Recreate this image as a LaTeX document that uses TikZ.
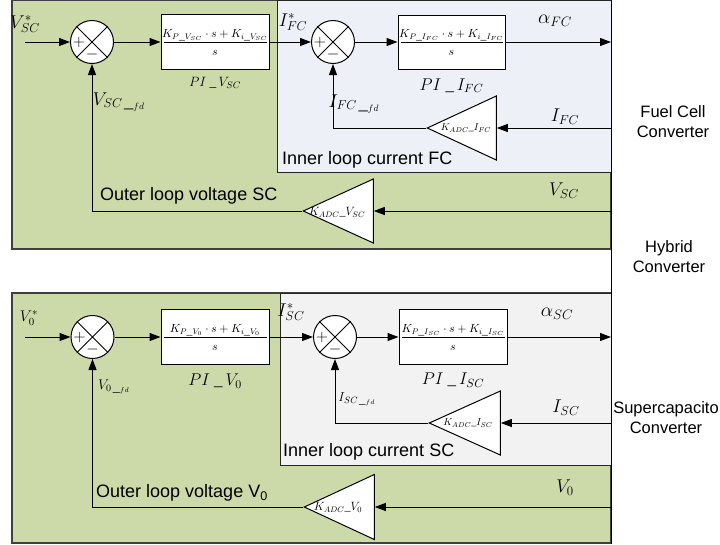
\documentclass[tikz,border=0pt]{standalone}
\usepackage{fix-cm}
\usepackage{fontspec}
\setmainfont{Liberation Serif}
\setsansfont{Liberation Sans}
\usetikzlibrary{arrows.meta,positioning,shapes.geometric}

\definecolor{loopgreen}{RGB}{204,218,170}
\definecolor{fcblue}{RGB}{237,240,247}
\definecolor{scgray}{RGB}{242,242,242}

\begin{document}
\begin{tikzpicture}[
  x=1pt, y=-1pt,
  panel/.style={draw=black!75, line width=1.2pt, fill=loopgreen},
  innerbox/.style={draw=black!85, line width=1pt},
  sum/.style={draw, circle, fill=white, minimum size=43pt, inner sep=0pt, line width=1pt},
  piblock/.style={draw, fill=white, minimum width=108pt, minimum height=55pt, line width=1pt},
  gain/.style={draw, fill=white, isosceles triangle, isosceles triangle stretches,
    shape border rotate=180, inner sep=0pt, line width=1pt, anchor=apex},
  sig/.style={font=\fontsize{18.5}{20}\selectfont, inner sep=0pt},
  num/.style={font=\fontsize{11.8}{14}\selectfont, inner sep=1pt},
  pm/.style={font=\fontsize{16}{18}\selectfont, inner sep=0pt},
  caption/.style={font=\sffamily\fontsize{18}{20}\selectfont, anchor=west, inner sep=0pt},
  side/.style={font=\sffamily\fontsize{16.5}{20}\selectfont, align=center},
  arrow/.style={-{Triangle[length=11pt,width=8pt]}, line width=1pt},
  wire/.style={line width=1pt}
]
\useasboundingbox (0,0) rectangle (720,544);

% panels
\draw[panel] (12,0.6) rectangle (611,249);
\draw[innerbox, fill=fcblue] (277,0.6) rectangle (611,172);
\draw[panel] (12,293) rectangle (611,543);
\draw[innerbox, fill=scgray] (280,293) rectangle (611,465);
\draw[wire] (611,0) -- (611,544);

\node[caption] (capFC) at (282,160) {Inner loop current FC};
\node[caption] (capVSC) at (100,196) {Outer loop voltage SC};
\node[caption] (capSC) at (283,452) {Inner loop current SC};
\node[caption] (capVo) at (96,493) {Outer loop voltage V\textsubscript{0}};

% fuel cell / SC voltage loop
\node[sum] (sV1) at (92,42) {};
\node[piblock] (piV1) at (215,42) {};
\node[sum] (sI1) at (333,42) {};
\node[piblock, minimum width=107pt, minimum height=54pt] (piI1) at (451.5,42) {};
\node[gain, minimum width=64pt, minimum height=69pt] (gI1) at (426,128) {};
\node[gain, minimum width=64pt, minimum height=70pt] (gV1) at (302,211) {};

% supercapacitor / V0 loop
\node[sum] (sV2) at (92.5,337) {};
\node[piblock] (piV2) at (215,337) {};
\node[sum] (sI2) at (335,337) {};
\node[piblock] (piI2) at (453,337) {};
\node[gain, minimum width=64pt, minimum height=71pt] (gI2) at (428,423) {};
\node[gain, minimum width=65pt, minimum height=70pt] (gV2) at (303,507) {};

\foreach \s in {sV1,sI1,sV2,sI2} {
  \draw[wire] (\s.north west) -- (\s.south east) (\s.north east) -- (\s.south west);
  \node[pm] (\s-p) at ([xshift=-13pt]\s.center) {$+$};
  \node[pm] (\s-m) at ([yshift=-12pt]\s.center) {$-$};
}
\foreach \b in {piV1,piI1,piV2,piI2}
  \draw[wire] ([xshift=3pt]\b.west) -- ([xshift=-3pt]\b.east);

% transfer functions
\node[num, above=0pt of piV1.center] (piV1n) {$K_{P\_V_{SC}}\cdot s+K_{i\_V_{SC}}$};
\node[num, below=7pt of piV1.center] (piV1d) {$s$};
\node[num, above=0pt of piI1.center] (piI1n) {$K_{P\_I_{FC}}\cdot s+K_{i\_I_{FC}}$};
\node[num, below=7pt of piI1.center] (piI1d) {$s$};
\node[num, above=0pt of piV2.center] (piV2n) {$K_{P\_V_{0}}\cdot s+K_{i\_V_{0}}$};
\node[num, below=7pt of piV2.center] (piV2d) {$s$};
\node[num, above=0pt of piI2.center] (piI2n) {$K_{P\_I_{SC}}\cdot s+K_{i\_I_{SC}}$};
\node[num, below=7pt of piI2.center] (piI2d) {$s$};

\node[sig, font=\fontsize{13.5}{15}\selectfont, below=7pt of piV1] (piV1l) {$PI\ \_\,V_{SC}$};
\node[sig, font=\fontsize{17}{19}\selectfont, below=9pt of piI1] (piI1l) {$PI\ \_\,I_{FC}$};
\node[sig, font=\fontsize{17}{19}\selectfont, below=9pt of piV2] (piV2l) {$PI\ \_\,V_{0}$};
\node[sig, font=\fontsize{17}{19}\selectfont, below=8pt of piI2] (piI2l) {$PI\ \_\,I_{SC}$};

\node[font=\fontsize{10}{12}\selectfont, inner sep=0pt] (gI1l) at (466,128) {$K_{ADC}\_I_{FC}$};
\node[font=\fontsize{12}{14}\selectfont, inner sep=0pt] (gV1l) at (337,212) {$K_{ADC}\_V_{SC}$};
\node[font=\fontsize{10}{12}\selectfont, inner sep=0pt] (gI2l) at (468,423) {$K_{ADC}\_I_{SC}$};
\node[font=\fontsize{12}{14}\selectfont, inner sep=0pt] (gV2l) at (338,507) {$K_{ADC}\_V_{0}$};

% signal labels
\node[sig] (lVSCr) at (25,24) {$V_{SC}^{*}$};
\node[sig] (lVSCfd) at (119,102) {$V_{SC\,\_{}_{fd}}$};
\node[sig] (lIFCr) at (293,22) {$I_{FC}^{*}$};
\node[sig, font=\fontsize{19.5}{21}\selectfont] (laFC) at (555,21) {$\alpha_{FC}$};
\node[sig] (lIFCfd) at (354,104) {$I_{FC\,\_{}_{fd}}$};
\node[sig] (lIFC) at (565,117) {$I_{FC}$};
\node[sig] (lVSC) at (564,191) {$V_{SC}$};

\node[sig, font=\fontsize{15.5}{17}\selectfont] (lVor) at (29,318) {$V_{0}^{*}$};
\node[sig, font=\fontsize{14}{16}\selectfont] (lVofd) at (114,387) {$V_{0\,\_{}_{fd}}$};
\node[sig] (lISCr) at (291,312) {$I_{SC}^{*}$};
\node[sig, font=\fontsize{19.5}{21}\selectfont] (laSC) at (557,314) {$\alpha_{SC}$};
\node[sig, font=\fontsize{13}{15}\selectfont] (lISCfd) at (357,399) {$I_{SC\,\_{}_{fd}}$};
\node[sig] (lISC) at (566,408) {$I_{SC}$};
\node[sig] (lVo) at (565,488) {$V_{0}$};

% converter names
\node[side] (nFC) at (673,122) {Fuel Cell\\Converter};
\node[side] (nHy) at (669,257) {Hybrid\\Converter};
\node[side] (nSC) at (666,418) {Supercapacito\\Converter};

% connections, top
\coordinate (inV1) at (25,42);
\coordinate (outI1) at (611,42);
\coordinate (fbI1) at (611,128);
\coordinate (fbV1) at (611,211);
\draw[arrow] (inV1) -- (sV1);
\draw[arrow] (sV1) -- (piV1);
\draw[arrow] (piV1) -- (sI1);
\draw[arrow] (sI1) -- (piI1);
\draw[arrow] (piI1) -- (outI1);
\draw[arrow] (fbI1) -- (gI1.lower side);
\draw[arrow] (gI1.apex) -| (sI1.south);
\draw[arrow] (fbV1) -- (gV1.lower side);
\draw[arrow] (gV1.apex) -| (sV1.south);

% connections, bottom
\coordinate (inV2) at (25,337);
\coordinate (outI2) at (611,337);
\coordinate (fbI2) at (611,423);
\coordinate (fbV2) at (611,507);
\draw[arrow] (inV2) -- (sV2);
\draw[arrow] (sV2) -- (piV2);
\draw[arrow] (piV2) -- (sI2);
\draw[arrow] (sI2) -- (piI2);
\draw[arrow] (piI2) -- (outI2);
\draw[arrow] (fbI2) -- (gI2.lower side);
\draw[arrow] (gI2.apex) -| (sI2.south);
\draw[arrow] (fbV2) -- (gV2.lower side);
\draw[arrow] (gV2.apex) -| (sV2.south);

\end{tikzpicture}
\end{document}
